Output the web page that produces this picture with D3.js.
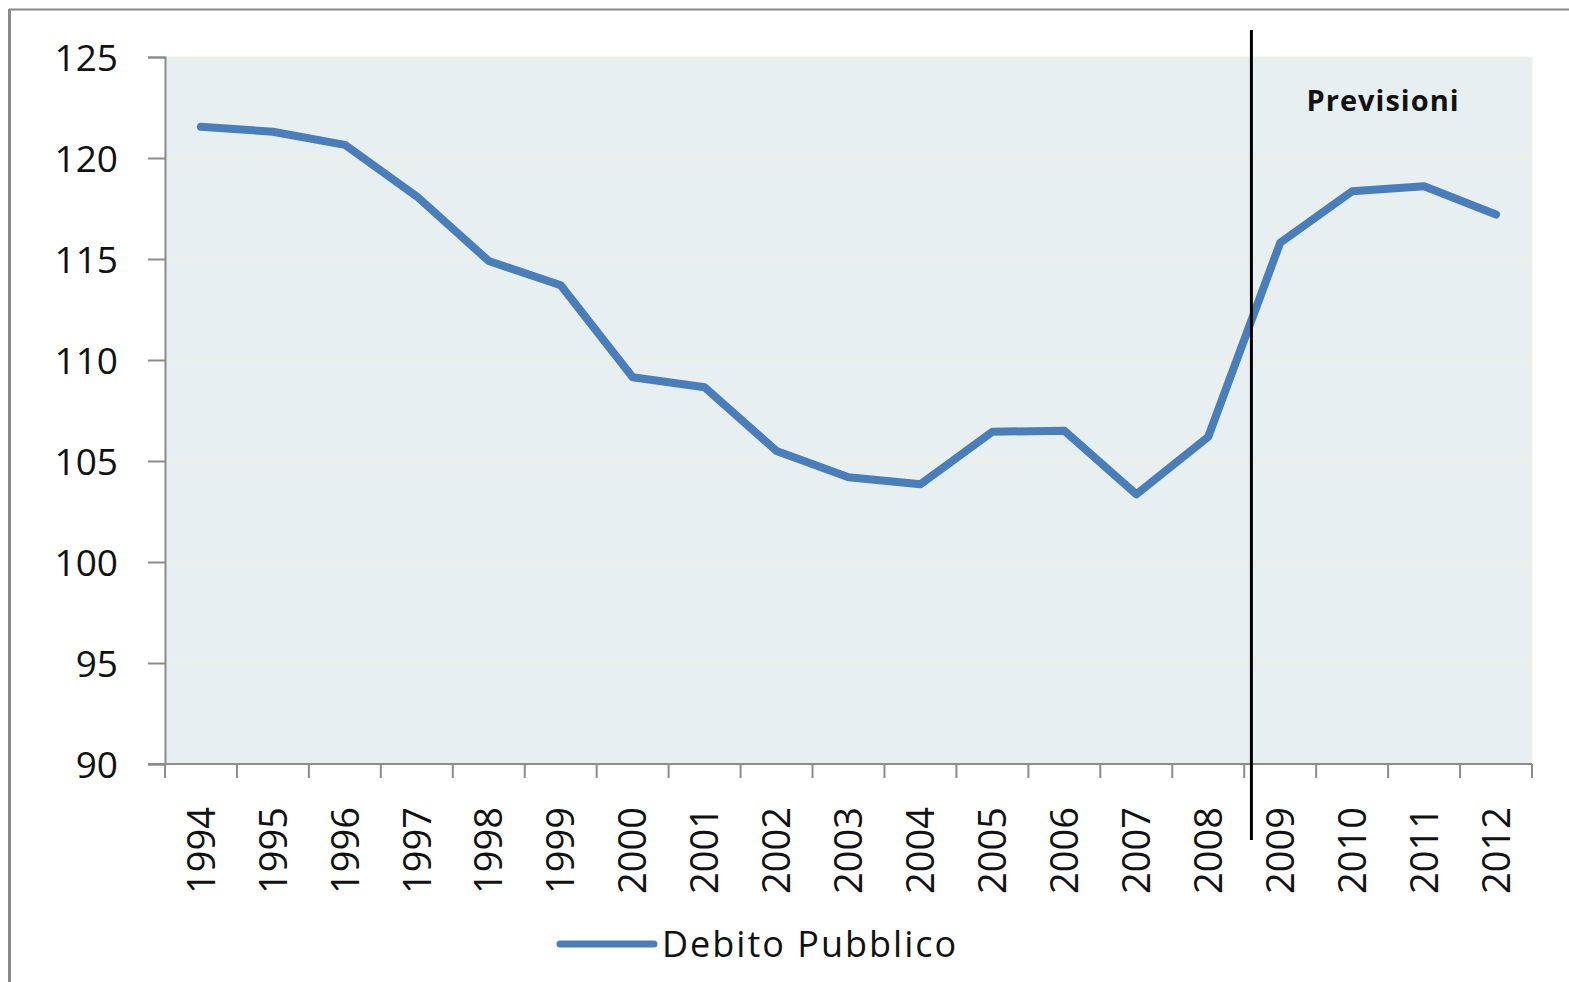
<!DOCTYPE html>
<html>
<head>
<meta charset="utf-8">
<script src="https://cdn.jsdelivr.net/npm/d3@7"></script>
<style>
  html, body { margin: 0; padding: 0; background: #fff; }
  svg { display: block; }
  text { font-family: "Open Sans", "Liberation Sans", sans-serif; fill: #111; }
</style>
</head>
<body>
<svg id="chart" width="1569" height="982"></svg>
<script>
// Debito pubblico (% del PIL), consuntivo e previsioni
const years = ["1994","1995","1996","1997","1998","1999","2000","2001","2002","2003",
               "2004","2005","2006","2007","2008","2009","2010","2011","2012"];
const debito = [121.55, 121.3, 120.65, 118.1, 114.9, 113.7, 109.15, 108.65, 105.5, 104.2,
                103.85, 106.45, 106.5, 103.35, 106.2, 115.8, 118.35, 118.6, 117.2];
const yTicks = [90, 95, 100, 105, 110, 115, 120, 125];
const seriesName = "Debito Pubblico";
const forecastLabel = "Previsioni";
const forecastStart = "2009";

const svg = d3.select("#chart");
const W = 1569, H = 982;
const m = { left: 165, top: 57, right: 1532, bottom: 764 };

// outer frame (top and left edges visible)
svg.append("line").attr("x1", 9).attr("x2", W).attr("y1", 9.5).attr("y2", 9.5)
  .attr("stroke", "#8a8a8a").attr("stroke-width", 2);
svg.append("line").attr("x1", 9.5).attr("x2", 9.5).attr("y1", 9).attr("y2", H)
  .attr("stroke", "#8a8a8a").attr("stroke-width", 3);

const x = d3.scaleBand().domain(years).range([m.left, m.right]).padding(0);
const y = d3.scaleLinear().domain([90, 125]).range([m.bottom, m.top]);

// plot background
svg.append("rect")
  .attr("x", m.left).attr("y", m.top)
  .attr("width", m.right - m.left).attr("height", m.bottom - m.top)
  .attr("fill", "#e7eff1").attr("stroke", "#eef2df").attr("stroke-width", 1);

// horizontal gridlines
svg.append("g").selectAll("line").data(yTicks.filter(d => d > 90)).join("line")
  .attr("x1", m.left).attr("x2", m.right)
  .attr("y1", d => y(d) + 0.5).attr("y2", d => y(d) + 0.5)
  .attr("stroke", "#eef2dc").attr("stroke-width", 1.5);

// y axis
const yAxis = svg.append("g").attr("transform", `translate(${m.left},0)`)
  .call(d3.axisLeft(y).tickValues(yTicks).tickSize(17).tickPadding(30).tickFormat(d3.format("d")));
yAxis.select(".domain").attr("stroke", "#8c8c8c").attr("stroke-width", 2);
yAxis.selectAll(".tick line").attr("stroke", "#8c8c8c").attr("stroke-width", 2);
yAxis.selectAll(".tick text").attr("font-size", 37).attr("fill", "#111")
  .attr("font-family", "Open Sans").attr("dy", "0.36em");

// x axis: ticks on band boundaries
const xAxisG = svg.append("g").attr("transform", `translate(0,${m.bottom})`);
xAxisG.append("line").attr("x1", m.left - 17).attr("x2", m.right)
  .attr("y1", 0).attr("y2", 0).attr("stroke", "#8c8c8c").attr("stroke-width", 2);
const bounds = years.map(d => x(d)).concat([x(years[years.length - 1]) + x.bandwidth()]);
xAxisG.selectAll("line.tk").data(bounds).join("line").attr("class", "tk")
  .attr("x1", d => d).attr("x2", d => d).attr("y1", 0).attr("y2", 14)
  .attr("stroke", "#8c8c8c").attr("stroke-width", 2);
xAxisG.selectAll("text").data(years).join("text")
  .attr("transform", d => `translate(${x(d) + x.bandwidth() / 2},43) rotate(-90)`)
  .attr("text-anchor", "end").attr("dy", "0.36em")
  .attr("font-size", 38).text(d => d);

// series line
const line = d3.line()
  .x((d, i) => x(years[i]) + x.bandwidth() / 2)
  .y(d => y(d));
svg.append("path").datum(debito)
  .attr("d", line)
  .attr("fill", "none").attr("stroke", "#4a7ebb").attr("stroke-width", 8)
  .attr("stroke-linecap", "round").attr("stroke-linejoin", "round");

// forecast divider
const fx = x(forecastStart) + x.bandwidth() * 0.1;
svg.append("line").attr("x1", fx).attr("x2", fx).attr("y1", 30).attr("y2", 840)
  .attr("stroke", "#000").attr("stroke-width", 3);
svg.append("text").attr("x", x("2011") - 5).attr("y", y(122.85))
  .attr("text-anchor", "middle").attr("dy", "0.36em")
  .attr("font-size", 29).attr("font-weight", "bold").attr("letter-spacing", 1)
  .text(forecastLabel);

// legend
const lg = svg.append("g").attr("transform", "translate(560,944)");
lg.append("line").attr("x1", 0).attr("x2", 94).attr("y1", 0).attr("y2", 0)
  .attr("stroke", "#4a7ebb").attr("stroke-width", 7).attr("stroke-linecap", "round");
lg.append("text").attr("x", 102).attr("y", 0).attr("dy", "0.36em")
  .attr("font-size", 36).attr("letter-spacing", 2).text(seriesName);
</script>
</body>
</html>
